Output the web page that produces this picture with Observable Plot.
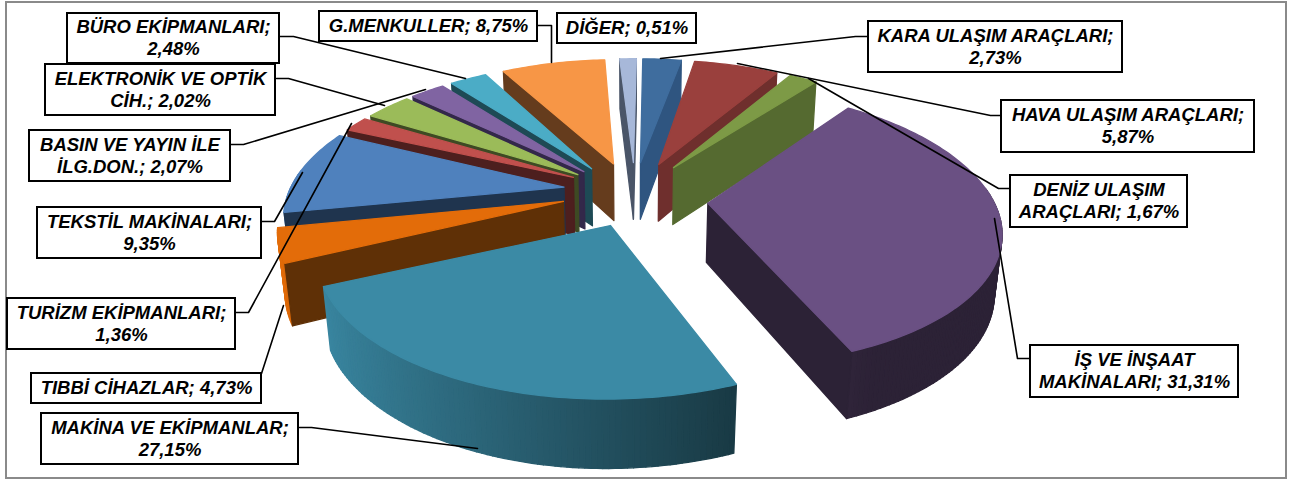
<!DOCTYPE html>
<html><head><meta charset="utf-8">
<script src="https://cdn.jsdelivr.net/npm/d3@7"></script>
<script src="https://cdn.jsdelivr.net/npm/@observablehq/plot@0.6"></script>
<style>html,body{margin:0;padding:0;background:#fff}svg{display:block}</style>
</head><body><div id="chart"></div>
<script>
// Sector shares, clockwise from twelve o'clock
const sectors = ["KARA ULAŞIM ARAÇLARI","HAVA ULAŞIM ARAÇLARI","DENİZ ULAŞIM ARAÇLARI","İŞ VE İNŞAAT MAKİNALARI","MAKİNA VE EKİPMANLAR","TIBBİ CİHAZLAR","TEKSTİL MAKİNALARI","TURİZM EKİPMANLARI","ELEKTRONİK VE OPTİK CİH.","BASIN VE YAYIN İLE İLG.DON.","BÜRO EKİPMANLARI","G.MENKULLER","DİĞER"];
const shares = [2.73,5.87,1.67,31.31,27.15,4.73,9.35,1.36,2.02,2.07,2.48,8.75,0.51];
const topColors = ["#3f6d9e","#9a403d","#7d9a46","#6a5083","#3b8aa5","#e36c09","#4f81bd","#c0504d","#9bbb59","#8064a2","#4bacc6","#f79646","#a7b8d9"];
const wallColors = ["#2f5580","#6f2f2d","#556a30","#2c2236","#17353f","#5f3006","#1f344e","#4d1f1e","#3e4a24","#33284a","#1e4a55","#653c1d","#4a5568"];

// Perspective correction of each wedge's edges, in degrees (start, end)
const edgeShift = [[0.8,0.6],[0,0],[0,1],[0,8.3],[8.8,-1],[-3,-5.5],[-5.5,-3],[-4.5,-3],[-2.5,2],[2,3.3],[3.8,4.3],[3.8,-1.2],[-1.7,0.7]];
// Extra pull of each wedge towards the viewer
const pull = [0,0,0,0.06,0,0,0,0,0,0,0,0,0];

// Callout boxes: two text rows, box edges and leader polyline
const calloutText = [
  ["BÜRO EKİPMANLARI;","2,48%"],["ELEKTRONİK VE OPTİK","CİH.; 2,02%"],["BASIN VE YAYIN İLE","İLG.DON.; 2,07%"],
  ["TEKSTİL MAKİNALARI;","9,35%"],["TURİZM EKİPMANLARI;","1,36%"],["TIBBİ CİHAZLAR; 4,73%"],["MAKİNA VE EKİPMANLAR;","27,15%"],
  ["G.MENKULLER; 8,75%"],["DİĞER; 0,51%"],["KARA ULAŞIM ARAÇLARI;","2,73%"],["HAVA ULAŞIM ARAÇLARI;","5,87%"],
  ["DENİZ ULAŞIM","ARAÇLARI; 1,67%"],["İŞ VE İNŞAAT","MAKİNALARI; 31,31%"]];
const calloutBox = [
  [67,279,13,63],[45,275,64,115],[29,230,130,181],[37,261,207,258],[7,235,298,349],[31,261,373,403],[41,298,413,464],
  [319,537,11,41],[557,696,13,43],[868,1122,21,72],[1001,1254,100,152],[1010,1187,175,227],[1030,1238,345,397]];
const calloutLeader = [
  [[279,36],[293,36],[465,78]],[[276,78],[288,78],[384,105]],[[230,144],[243,144],[425,89]],
  [[261,221],[274,221],[302,172]],[[234,312],[248,312],[351,123]],[[261,373],[283,305]],[[299,427],[311,427],[477,448]],
  [[537,25],[551,25],[551,62]],[[],[]],[[868,36],[855,36],[660,58]],[[1001,115],[990,115],[737,63]],
  [[1010,188],[998,188],[808,78]],[[1030,358],[1017,358],[994,218]]];

// Camera for the tilted, exploded pie (unit radius)
const cam = {cx:634, cy:193, f:1450, D:5, tilt:26.5*Math.PI/180, explode:0.25, depth:0.23, leftX:0.95, rightX:0.975, backZ:1.03};
const W = 1305, H = 479;
function project(X, Z, Y) {
  const c = Math.cos(cam.tilt), s = Math.sin(cam.tilt);
  const yv = Y*c - Z*s, d = cam.D - (Z*c + Y*s);
  return [cam.cx + cam.f*X/d, cam.cy - cam.f*yv/d];
}

// Wedge faces, built from the shares, far wedges first
const total = d3.sum(shares);
const rad = Math.PI/180;
let acc = 0;
const wedges = shares.map((v,i)=>{
  const n0 = acc/total*2*Math.PI; acc += v;
  const n1 = acc/total*2*Math.PI;
  const m = (n0+n1)/2;
  return {i, a0:n0+edgeShift[i][0]*rad, a1:n1+edgeShift[i][1]*rad,
          ox:cam.explode*Math.sin(m), oz:-cam.explode*Math.cos(m)+pull[i]};
});
const order = d3.sort(wedges, w=>w.oz);
const faces = [];
let fid = 0;
function addFace(pts, color){
  const id = fid++;
  for (const p of pts) faces.push({id, x:p[0], y:p[1], color});
}
const rimX = a => { const s = Math.sin(a); return s*(s<0 ? cam.leftX : cam.rightX); };
const rimZ = a => { const c = -Math.cos(a); return c<0 ? c*cam.backZ : c; };
// A radial wall shows when the camera sits on its outer side
function wallFaces(w, a, side) {
  const camZ = cam.D*Math.cos(cam.tilt);
  return side*(Math.cos(a)*(0 - w.ox) + Math.sin(a)*(camZ - w.oz)) > 0;
}
for (const w of order) {
  const top = [], bot = [];
  const n = Math.max(4, Math.ceil((w.a1-w.a0)/(2*Math.PI)*360));
  for (let k=0;k<=n;k++){
    const a = w.a0+(w.a1-w.a0)*k/n;
    top.push({a,p:project(w.ox+rimX(a), w.oz+rimZ(a), 0)});
    bot.push({a,p:project(w.ox+rimX(a), w.oz+rimZ(a), -cam.depth)});
  }
  const c0 = project(w.ox,w.oz,0), c1 = project(w.ox,w.oz,-cam.depth);
  // Outer rim where it faces the viewer, then the visible radial walls, then the top
  for (let k=0;k<n;k++){
    if (Math.cos(top[k].a) > 0.12) continue;
    const sin = Math.sin(top[k].a);
    const t = Math.max(0, Math.min(1, (0.45 - sin)/1.45));
    addFace([top[k].p,top[k+1].p,bot[k+1].p,bot[k].p], d3.interpolateRgb(wallColors[w.i], topColors[w.i])(t));
  }
  if (wallFaces(w, w.a0, -1)) addFace([c0,top[0].p,bot[0].p,c1], wallColors[w.i]);
  if (wallFaces(w, w.a1, 1)) addFace([c0,top[n].p,bot[n].p,c1], wallColors[w.i]);
  addFace([c0,...top.map(d=>d.p)], topColors[w.i]);
}

const boxes = calloutBox.map(b=>({x1:b[0],x2:b[1],y1:b[2],y2:b[3]}));
const leaders = calloutLeader.flatMap((l,i)=>l.filter(p=>p.length).map(p=>({i,x:p[0],y:p[1]})));
const rows = calloutText.flatMap((t,i)=>t.map((s,j)=>({
  s, x:(calloutBox[i][0]+calloutBox[i][1])/2,
  y:(calloutBox[i][2]+calloutBox[i][3])/2 + (t.length==2 ? (j==0?-11:11) : 0)})));

const chart = Plot.plot({
  width:W, height:H, margin:0,
  x:{domain:[0,W],range:[0,W],axis:null},
  y:{domain:[0,H],range:[0,H],axis:null},
  color:{type:"identity"},
  marks:[
    Plot.rect([{x1:6,x2:1286,y1:2,y2:478}],{x1:"x1",x2:"x2",y1:"y1",y2:"y2",fill:"white",stroke:"#8a8a8a",strokeWidth:2}),
    Plot.line(faces,{x:"x",y:"y",z:"id",fill:"color",stroke:"color",strokeWidth:1.3,strokeLinejoin:"round",curve:"linear-closed"}),
    Plot.line(leaders,{x:"x",y:"y",z:"i",stroke:"black",strokeWidth:1.6}),
    Plot.rect(boxes,{x1:"x1",x2:"x2",y1:"y1",y2:"y2",fill:"white",stroke:"black",strokeWidth:2}),
    Plot.text(rows,{x:"x",y:"y",text:"s",fontFamily:"Liberation Sans",fontWeight:"bold",fontStyle:"italic",fontSize:18.5,fill:"black"})
  ]
});
document.getElementById("chart").append(chart);
</script></body></html>
